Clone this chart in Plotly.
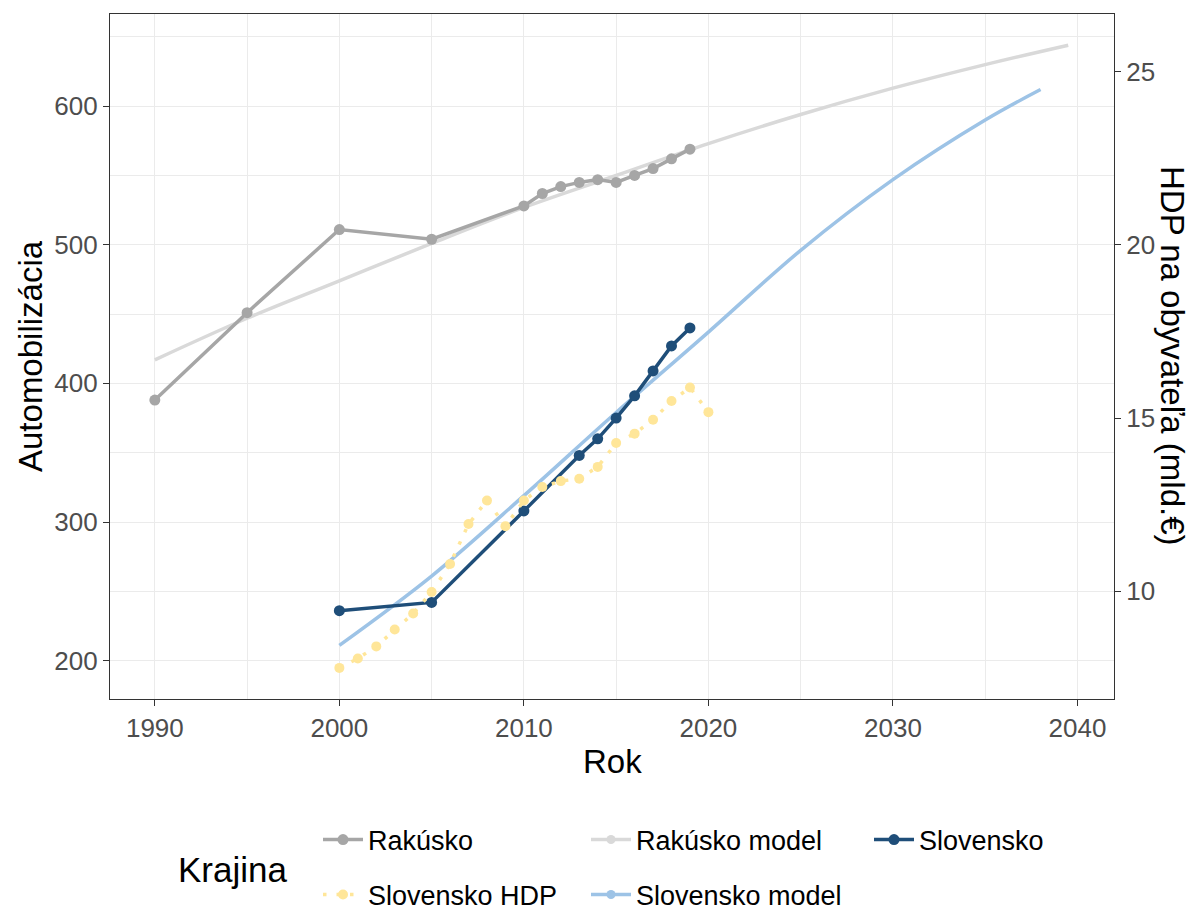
import plotly.graph_objects as go

# ---------------- data ----------------
rak_years = [1990, 1995, 2000, 2005, 2010, 2011, 2012, 2013, 2014, 2015, 2016, 2017, 2018, 2019]
rakusko = [388, 451, 511, 504, 528, 537, 542, 545, 547, 545, 550, 555, 562, 569]

rak_model_years = [1990, 1995, 2000, 2005, 2010, 2015, 2020, 2025, 2030, 2035, 2039.5]
rakusko_model = [417, 447, 474, 501, 527, 550, 573, 594, 613, 630, 644]

sk_years = [2000, 2005, 2010, 2013, 2014, 2015, 2016, 2017, 2018, 2019]
slovensko = [236, 242, 308, 348, 360, 375, 391, 409, 427, 440]

sk_model_years = [2000, 2005, 2010, 2015, 2020, 2025, 2030, 2035, 2038]
slovensko_model = [211, 261, 319, 379, 437, 496, 547, 590, 612]

hdp_years = [2000, 2001, 2002, 2003, 2004, 2005, 2006, 2007, 2008, 2009, 2010,
             2011, 2012, 2013, 2014, 2015, 2016, 2017, 2018, 2019, 2020]
slovensko_hdp = [7.79, 8.06, 8.41, 8.90, 9.36, 9.98, 10.79, 11.94, 12.62, 11.88, 12.62,
                 13.01, 13.18, 13.25, 13.59, 14.28, 14.55, 14.95, 15.49, 15.88, 15.17]

x_ticks = [1990, 2000, 2010, 2020, 2030, 2040]
y_ticks = [200, 300, 400, 500, 600]
y2_ticks = [10, 15, 20, 25]

# ---------------- styling ----------------
W, H = 1192, 911
ML, MR, MT, MB = 110, 78, 14, 212
PW, PH = W - ML - MR, H - MT - MB
FONT = "Liberation Sans, Arial, sans-serif"
TICK_FONT = dict(family=FONT, size=26, color="#4D4D4D")
TITLE_FONT = dict(family=FONT, size=33, color="#000000")
LEGTITLE_FONT = dict(family=FONT, size=35, color="#000000")
LEG_FONT = dict(family=FONT, size=27, color="#000000")

C_RAK = "#A6A6A6"
C_RAK_M = "#D9D9D9"
C_SK = "#1F4E79"
C_SK_M = "#9DC3E6"
C_HDP = "#FFE699"

Y_RANGE = [172.3, 666.5]
SCALE = 25.0  # primary = 25 * secondary

def px_x(p):
    return (p - ML) / PW

def px_y(p):
    return (H - MB - p) / PH

def leg(px, py):
    return dict(xref="container", yref="container", x=px / W, y=1 - py / H,
                xanchor="left", yanchor="middle", orientation="h",
                font=LEG_FONT, bgcolor="rgba(0,0,0,0)", itemwidth=40,
                borderwidth=0)

fig = go.Figure()

fig.add_trace(go.Scatter(x=rak_model_years, y=rakusko_model, mode="lines",
                         name="Rakúsko model", line=dict(color=C_RAK_M, width=3.5, shape="spline"),
                         showlegend=False))
fig.add_trace(go.Scatter(x=sk_model_years, y=slovensko_model, mode="lines",
                         name="Slovensko model", line=dict(color=C_SK_M, width=3.5, shape="spline"),
                         showlegend=False))
fig.add_trace(go.Scatter(x=rak_years, y=rakusko, mode="lines+markers",
                         name="Rakúsko", line=dict(color=C_RAK, width=3.5),
                         marker=dict(color=C_RAK, size=11), legend="legend"))
fig.add_trace(go.Scatter(x=sk_years, y=slovensko, mode="lines+markers",
                         name="Slovensko", line=dict(color=C_SK, width=3.5),
                         marker=dict(color=C_SK, size=11), legend="legend3"))
fig.add_trace(go.Scatter(x=hdp_years, y=slovensko_hdp, mode="lines+markers", yaxis="y2",
                         name="Slovensko HDP", line=dict(color=C_HDP, width=3.5, dash="3.5px,10px"),
                         marker=dict(color=C_HDP, size=10), legend="legend4"))
# legend keys for the model lines (ggplot shows a dot in every key)
fig.add_trace(go.Scatter(x=[None], y=[None], mode="lines+markers", name="Rakúsko model",
                         line=dict(color=C_RAK_M, width=3.5), marker=dict(color=C_RAK_M, size=9),
                         legend="legend2", hoverinfo="skip"))
fig.add_trace(go.Scatter(x=[None], y=[None], mode="lines+markers", name="Slovensko model",
                         line=dict(color=C_SK_M, width=3.5), marker=dict(color=C_SK_M, size=9),
                         legend="legend5", hoverinfo="skip"))

axis_common = dict(showline=True, linecolor="#333333", linewidth=1.3,
                   ticks="outside", ticklen=6, tickwidth=1.3, tickcolor="#333333",
                   tickfont=TICK_FONT, zeroline=False)

fig.update_layout(
    width=W, height=H,
    margin=dict(l=ML, r=MR, t=MT, b=MB, autoexpand=False),
    paper_bgcolor="white", plot_bgcolor="white",
    font=dict(family=FONT),
    xaxis=dict(range=[1987.57, 2041.98], tickvals=x_ticks, mirror=True,
               showgrid=True, gridcolor="#EBEBEB", gridwidth=1.4,
               minor=dict(dtick=5, tick0=1985, showgrid=True, gridcolor="#EBEBEB", gridwidth=0.7, ticks=""),
               **axis_common),
    yaxis=dict(range=Y_RANGE, tickvals=y_ticks, mirror=True,
               showgrid=True, gridcolor="#EBEBEB", gridwidth=1.4,
               minor=dict(dtick=50, tick0=150, showgrid=True, gridcolor="#EBEBEB", gridwidth=0.7, ticks=""),
               **axis_common),
    yaxis2=dict(range=[Y_RANGE[0] / SCALE, Y_RANGE[1] / SCALE], tickvals=y2_ticks,
                overlaying="y", side="right", showgrid=False, **axis_common),
    legend=leg(318, 840),
    legend2=leg(586, 840),
    legend3=leg(869, 840),
    legend4=leg(318, 895),
    legend5=leg(586, 895),
    showlegend=True,
    annotations=[
        dict(text="Rok", x=px_x(612), y=px_y(762), xref="paper", yref="paper",
             showarrow=False, font=TITLE_FONT, xanchor="center", yanchor="middle"),
        dict(text="Automobilizácia", x=px_x(30), y=px_y(356), xref="paper", yref="paper",
             showarrow=False, font=TITLE_FONT, textangle=-90, xanchor="center", yanchor="middle"),
        dict(text="HDP na obyvateľa (mld.€)", x=px_x(1173), y=px_y(356), xref="paper", yref="paper",
             showarrow=False, font=TITLE_FONT, textangle=90, xanchor="center", yanchor="middle"),
        dict(text="Krajina", x=px_x(176), y=px_y(869), xref="paper", yref="paper",
             showarrow=False, font=LEGTITLE_FONT, xanchor="left", yanchor="middle"),
    ],
)

fig.write_html("out.html", config={"displayModeBar": False},
               post_script="document.body.style.margin='0px';document.body.style.overflow='hidden';")
